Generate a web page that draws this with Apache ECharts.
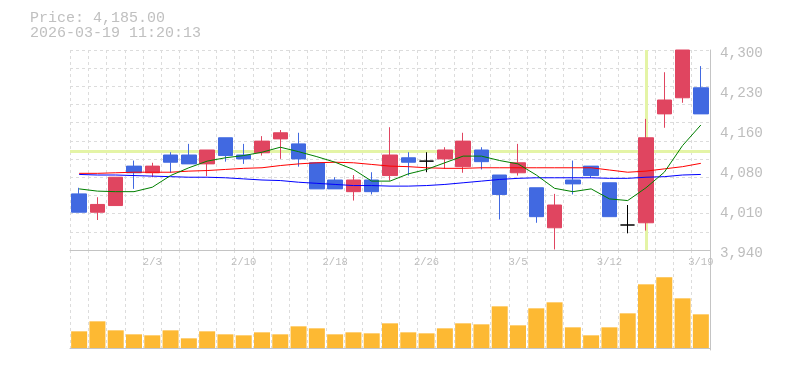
<!DOCTYPE html>
<html>
<head>
<meta charset="utf-8">
<style>html,body{margin:0;padding:0;background:#fff;}#c{width:785px;height:370px;}</style>
<script src="https://cdn.jsdelivr.net/npm/echarts@6/dist/echarts.min.js"></script>
</head>
<body>
<div id="c"></div>
<script>
const dates = ['1/28','1/29','1/30','2/2','2/3','2/4','2/5','2/6','2/9','2/10','2/12','2/13','2/16','2/17','2/18','2/19','2/20','2/24','2/25','2/26','2/27','3/2','3/3','3/4','3/5','3/6','3/9','3/10','3/11','3/12','3/13','3/16','3/17','3/18','3/19'];
const opens  = [4041,4008,4020,4091,4079,4111,4111,4095,4142,4111,4115,4140,4131,4097,4066,4045,4066,4074,4106,4100,4104,4090,4120,4075,4079,4052,3980,4066,4091,4061,3985,3989,4185,4214,4232];
const closes = [4008,4022,4071,4079,4091,4098,4095,4120,4110,4104,4136,4151,4104,4050,4050,4066,4045,4111,4098,4100,4120,4136,4099,4040,4097,4000,4021,4059,4074,4000,3985,4142,4210,4300,4185];
const lows   = [4008,3994,4020,4050,4071,4079,4095,4073,4099,4095,4110,4104,4090,4050,4050,4029,4040,4065,4074,4080,4086,4079,4085,3995,4074,3989,3941,4040,4070,4000,3970,3975,4160,4205,4185];
const highs  = [4052,4035,4071,4101,4097,4116,4131,4120,4142,4131,4145,4156,4151,4097,4071,4075,4080,4161,4116,4116,4125,4151,4125,4075,4131,4052,4041,4101,4091,4061,4021,4176,4260,4300,4271];
const ma5  = [4050,4046,4045,4045,4053,4074,4088,4100,4106,4110,4116,4125,4117,4108,4098,4085,4064,4064,4077,4085,4097,4109,4109,4101,4095,4075,4051,4045,4050,4032,4029,4052,4080,4128,4165];
const ma25 = [4078,4078,4079,4080,4080,4080,4082,4083,4085,4087,4088,4092,4095,4097,4098,4097,4094,4091,4090,4088,4087,4087,4088,4088,4088,4088,4088,4088,4088,4084,4080,4082,4086,4090,4096];
const ma75 = [4076,4075,4075,4074,4073,4072,4071,4071,4070,4068,4066,4065,4062,4060,4058,4056,4056,4055,4055,4056,4058,4061,4064,4067,4069,4070,4070,4070,4070,4069,4069,4071,4072,4075,4076];
const volumes = [50,80,53,41,38,53,29,50,41,38,47,41,65,59,41,47,44,74,47,44,59,74,71,125,68,119,137,62,38,62,104,191,212,149,101];
const priceTicks = [3940, 4300, 72];
const crossPrice = 4117;
const crossDate = '3/16';
const headerLines = ['Price: 4,185.00', '2026-03-19 11:20:13'];

const candleData = dates.map((d, i) => [opens[i], closes[i], lows[i], highs[i]]);
const gridDash = { color: '#dcdcdc', type: [3, 3], width: 1 };
const axisGray = '#c4c4c4';
const mono = '"Liberation Mono", "DejaVu Sans Mono", monospace';

const chart = echarts.init(document.getElementById('c'), null, { renderer: 'canvas' });
chart.setOption({
  animation: false,
  backgroundColor: '#fff',
  title: {
    text: headerLines.join('\n'),
    left: 25, top: 5,
    textStyle: { fontFamily: mono, fontSize: 15, fontWeight: 'normal', color: '#c0c0c0', lineHeight: 15.5 }
  },
  grid: [
    { left: 70, right: 75, top: 50, height: 200 },
    { left: 70, right: 75, top: 250, height: 100 }
  ],
  xAxis: [
    {
      type: 'category', gridIndex: 0, data: dates, boundaryGap: true,
      axisLine: { show: true, lineStyle: { color: axisGray, width: 1 } },
      axisTick: { show: false },
      axisLabel: { interval: (i) => i % 5 === 4, color: '#bdbdbd', fontFamily: mono, fontSize: 10.5, margin: 7 },
      splitLine: { show: true, interval: 0, lineStyle: gridDash }
    },
    {
      type: 'category', gridIndex: 1, data: dates, boundaryGap: true,
      axisLine: { show: true, lineStyle: { color: axisGray, width: 1 } },
      axisTick: { show: false },
      axisLabel: { show: false },
      splitLine: { show: true, interval: 0, lineStyle: gridDash }
    }
  ],
  yAxis: [
    {
      type: 'value', gridIndex: 0, position: 'right',
      min: priceTicks[0], max: priceTicks[1], interval: priceTicks[2],
      axisLine: { show: true, lineStyle: { color: axisGray, width: 1 } },
      axisTick: { show: false },
      splitLine: { show: false },
      axisLabel: {
        color: '#bdbdbd', fontFamily: mono, fontSize: 14.3, margin: 10,
        verticalAlign: 'top', lineHeight: 6,
        formatter: (v) => (Math.round(v / 10) * 10).toLocaleString('en-US')
      }
    },
    {
      type: 'value', gridIndex: 0, position: 'left', min: 0, max: 11, interval: 1,
      axisLine: { show: false }, axisTick: { show: false }, axisLabel: { show: false },
      splitLine: { show: true, lineStyle: gridDash }
    },
    {
      type: 'value', gridIndex: 1, position: 'right', min: -6, max: 294,
      axisLine: { show: true, lineStyle: { color: axisGray, width: 1 } },
      axisTick: { show: false }, axisLabel: { show: false }, splitLine: { show: false }
    }
  ],
  series: [
    {
      type: 'candlestick', xAxisIndex: 0, yAxisIndex: 0, data: candleData, barWidth: 15,
      itemStyle: {
        color: '#e04560', borderColor: '#e04560',
        color0: '#4169e1', borderColor0: '#4169e1',
        borderColorDoji: '#000000', borderWidth: 1
      },
      markLine: {
        silent: true, z: 1, symbol: ['none', 'none'], label: { show: false },
        lineStyle: { color: '#e4f4a6', width: 3, type: 'solid' },
        data: [{ yAxis: crossPrice }, { xAxis: crossDate }]
      }
    },
    { type: 'line', xAxisIndex: 0, yAxisIndex: 0, data: ma25, symbol: 'none', z: 3, lineStyle: { color: '#ff0000', width: 1 } },
    { type: 'line', xAxisIndex: 0, yAxisIndex: 0, data: ma75, symbol: 'none', z: 3, lineStyle: { color: '#0000ff', width: 1 } },
    { type: 'line', xAxisIndex: 0, yAxisIndex: 0, data: ma5, symbol: 'none', z: 3, lineStyle: { color: '#008000', width: 1 } },
    {
      type: 'bar', xAxisIndex: 1, yAxisIndex: 2, data: volumes, barWidth: 16,
      itemStyle: { color: '#fdb933' }
    }
  ]
});
</script>
</body>
</html>
